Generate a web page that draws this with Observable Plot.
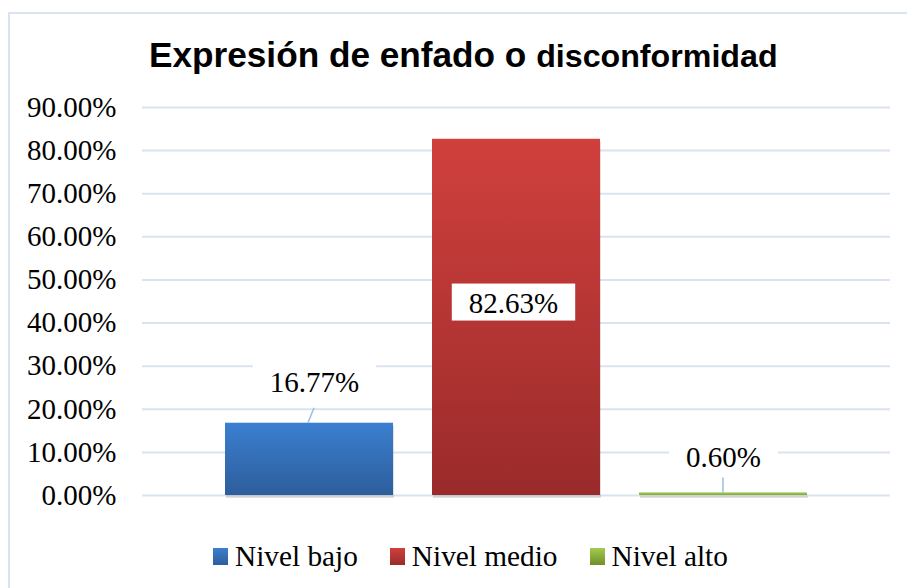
<!DOCTYPE html>
<html><head><meta charset="utf-8">
<script src="https://cdn.jsdelivr.net/npm/d3@7"></script>
<script src="https://cdn.jsdelivr.net/npm/@observablehq/plot@0.6"></script>
<style>
body{margin:0;background:#fff;}
#chart{position:relative;width:907px;height:588px;overflow:hidden;background:#fff;}
#frame{position:absolute;left:8px;top:12px;width:1000px;height:1000px;border-left:2px solid #d9e3f1;border-top:2px solid #d9e3f1;}
#title{position:absolute;left:149px;top:35px;line-height:40px;font-family:"Liberation Sans",Arial,sans-serif;font-weight:bold;white-space:nowrap;color:#000;font-size:35.2px;}
#title .small{font-size:32.2px;}
#plot{position:absolute;left:0;top:0;}
#legend{position:absolute;left:213px;top:538px;line-height:36px;font-family:"Liberation Serif","Times New Roman",serif;font-size:29.3px;white-space:nowrap;color:#000;display:flex;}
#legend .item{display:flex;align-items:center;margin-right:32px;}
#legend .sw{width:15px;height:17px;margin-right:7px;margin-top:1px;}
</style></head>
<body>
<div id="chart">
  <div id="frame"></div>
  <div id="title">Expresión de enfado o <span class="small">disconformidad</span></div>
  <div id="plot"></div>
  <div id="legend"></div>
</div>
<script>
// ---- data ----
const categories = ["Nivel bajo", "Nivel medio", "Nivel alto"];
const values = [16.77, 82.63, 0.60];
const labelTexts = ["16.77%", "82.63%", "0.60%"];
const yTicks = [0, 10, 20, 30, 40, 50, 60, 70, 80, 90];

// ---- styling ----
const gradStops = [
  ["#3b7fd0", "#2d5e9c"],
  ["#d0403d", "#9a2b2a"],
  ["#9cc84a", "#84ad35"]
];
const legendStops = [
  ["#3b7fd0", "#2d5e9c"],
  ["#d0403d", "#9a2b2a"],
  ["#a2cb4f", "#6f8f2a"]
];
const gradIds = ["gBlue", "gRed", "gGreen"];
const labelOffsets = [{dx: 5, dy: -40}, {dx: -3, dy: 164}, {dx: 0, dy: -35}];
const leaders = [{bx: -1, tx: 5, len: 15}, null, {bx: 0, tx: 0, len: 15}];
const serif = '"Liberation Serif","Times New Roman",serif';

const data = categories.map((c, i) => ({cat: c, v: values[i], label: labelTexts[i], i}));

const marks = [
  Plot.ruleY(yTicks, {y: d => d, stroke: "#d9e3f1", strokeWidth: 2}),
  Plot.barY(data, {x: "cat", y: "v", fill: "#000", fillOpacity: 0.12, dy: 3, dx: 1})
];
data.forEach((d, i) => {
  marks.push(Plot.barY(data, {filter: e => e.i === i, x: "cat", y: "v", fill: `url(#${gradIds[i]})`}));
});
marks.push(Plot.ruleX(data, {
  x: "cat", y1: "v", y2: "v",
  render(index, scales, vals) {
    const g = d3.create("svg:g");
    const bw = scales.x && scales.x.bandwidth ? scales.x.bandwidth() / 2 : 0;
    for (const i of index) {
      const L = leaders[i];
      if (!L) continue;
      const x = vals.x[i] + bw, y = vals.y1[i];
      g.append("line").attr("x1", x + L.bx).attr("y1", y).attr("x2", x + L.tx).attr("y2", y - L.len)
        .attr("stroke", "#9dbde3").attr("stroke-width", 1.5);
    }
    return g.node();
  }
}));
data.forEach((d, i) => {
  marks.push(Plot.text(data, {
    filter: e => e.i === i, x: "cat", y: "v", text: "label",
    dx: labelOffsets[i].dx, dy: labelOffsets[i].dy,
    fontSize: 29, fontFamily: serif, fill: "#000", className: "lbl"
  }));
});
marks.push(Plot.axisY(yTicks, {
  tickSize: 0, tickPadding: 26, fontSize: 29, fontFamily: serif, fill: "#000",
  tickFormat: d => d.toFixed(2) + "%", label: null
}));

const svg = Plot.plot({
  width: 907, height: 520,
  marginLeft: 142, marginRight: 17, marginTop: 107, marginBottom: 25,
  x: {domain: categories, range: [205.5, 826.5], paddingInner: 0.188, paddingOuter: 0.094, axis: null},
  y: {domain: [0, 90], axis: null},
  style: {fontFamily: serif, fontSize: "29px", color: "#000", background: "transparent", overflow: "visible"},
  marks
});

const defs = d3.select(svg).insert("defs", ":first-child");
gradIds.forEach((id, i) => {
  const lg = defs.append("linearGradient").attr("id", id).attr("x1", 0).attr("y1", 0).attr("x2", 0).attr("y2", 1);
  lg.append("stop").attr("offset", "0%").attr("stop-color", gradStops[i][0]);
  lg.append("stop").attr("offset", "100%").attr("stop-color", gradStops[i][1]);
});

document.getElementById("plot").append(svg);

const ns = "http://www.w3.org/2000/svg";
svg.querySelectorAll("g.lbl text").forEach(t => {
  const b = t.getBBox();
  const r = document.createElementNS(ns, "rect");
  r.setAttribute("x", b.x - 17);
  r.setAttribute("y", b.y - 3);
  r.setAttribute("width", b.width + 34);
  r.setAttribute("height", b.height + 5);
  r.setAttribute("fill", "#fff");
  const tr = t.getAttribute("transform");
  if (tr) r.setAttribute("transform", tr);
  t.parentNode.insertBefore(r, t);
});

const legend = d3.select("#legend");
categories.forEach((c, i) => {
  const it = legend.append("div").attr("class", "item");
  it.append("div").attr("class", "sw")
    .style("background", `linear-gradient(${legendStops[i][0]}, ${legendStops[i][1]})`);
  it.append("span").text(c);
});
</script>
</body></html>
